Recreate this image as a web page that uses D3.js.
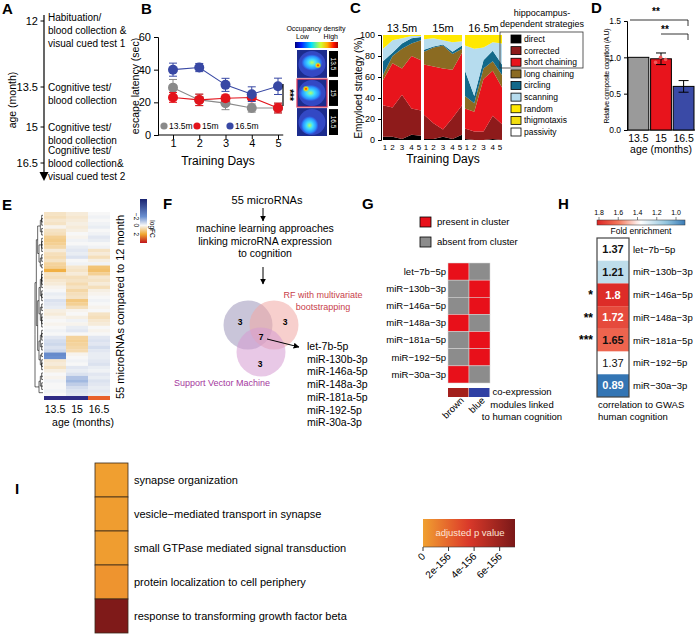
<!DOCTYPE html>
<html><head><meta charset="utf-8">
<script src="https://cdn.jsdelivr.net/npm/d3@7"></script>
<style>body{margin:0;background:#fff}svg{font-family:"Liberation Sans",Arial,sans-serif}</style>
</head><body>
<script>
// ---------- data ----------
var ageTicks=[12,13.5,15,16.5];
var ageEvents=[["Habituation/","blood collection &","visual cued test 1"],["Cognitive test/","blood collection"],["Cognitive test/","blood collection"],["Cognitive test/","blood collection&","visual cued test 2"]];

var days=[1,2,3,4,5];
var latGroups=["13.5m","15m","16.5m"];
var lat135=[29,21.5,19.5,16.5,16.5], err135=[5,3.5,4,2.5,3];
var lat15=[23,21.5,22.5,23,16.5], err15=[3,3.5,2,1.5,3];
var lat165=[40,41.3,30.7,25,29.8], err165=[4,2.5,4,4.5,5];
var occLabels=["13.5","15","16.5"];

var strategies=["direct","corrected","short chaining","long chaining","circling","scanning","random","thigmotaxis","passivity"];
var stratPanels=["13.5m","15m","16.5m"];
// percent of trials per strategy, days 1-5
var strat135=[[3,3,1,5,4],[30,28,42,25,24],[24,42,25,50,48],[5,7,19,12,19],[13,3,5,5,3],[12,12,5,2,1],[13,5,3,1,1],[0,0,0,0,0],[0,0,0,0,0]];
var strat15=[[1,1,3,1,5],[23,15,7,20,28],[48,54,58,46,50],[12,18,22,15,4],[2,1,1,2,3],[10,8,4,9,4],[4,3,5,7,6],[0,0,0,0,0],[0,0,0,0,0]];
var strat165=[[1,0,0,1,0],[10,8,8,22,15],[19,19,50,43,35],[12,8,10,9,12],[24,7,8,10,10],[24,45,12,8,20],[10,13,12,7,8],[0,0,0,0,0],[0,0,0,0,0]];

var cogAges=["13.5","15","16.5"];
var cogValues=[1.0,0.98,0.6];
var cogErr=[0,0.08,0.08];
var cogPoints15=[0.93,1.0,0.97];

var heatAges=["13.5","15","16.5"];
var heat135=[0.5,0.6,0.4,0.5,0.1,0.5,0.6,1.0,1.1,1.0,0.8,0.3,0.6,0.7,0.5,0.9,1.0,1.8,0.5,0.6,0.4,0.3,0.1,0.0,-0.2,-0.1,-0.4,-0.3,-0.2,0.2,0.3,0.1,0.0,0.1,0.0,-0.1,0.0,-0.3,-0.5,-0.6,-0.4,-0.6,-2.2,-2.0,0.4,0.3,0.5,0.2,0.0,0.1,-0.1,0.0,0.0,-0.1,0.0];
var heat15=[0.3,0.4,0.3,0.2,0.3,0.2,0.0,0.1,-0.1,0.0,-0.2,-0.3,-0.2,-0.4,0.0,-0.1,0.4,0.5,0.3,0.6,0.5,0.7,0.5,0.8,0.6,0.5,1.2,1.0,0.6,0.1,0.0,0.2,-0.1,0.1,-0.2,-0.3,0.0,0.9,1.0,0.9,0.8,0.7,0.1,0.0,-0.1,0.0,-0.3,-0.2,-0.4,-1.0,-1.2,-0.8,-0.5,-0.4,-0.3];
var heat165=[0.0,-0.1,0.0,-0.1,-0.2,0.0,-0.1,-0.3,-0.2,0.0,-0.1,0.5,0.3,0.6,0.2,-0.1,1.3,1.4,1.0,0.4,0.5,0.3,0.6,0.2,0.1,0.0,-0.1,0.0,0.1,0.0,0.5,0.6,0.4,0.3,0.0,0.1,0.0,-0.3,-0.4,-0.3,-0.5,-0.3,-0.2,-0.2,-0.3,-0.4,-0.2,-0.1,-0.3,-0.2,-0.4,-0.3,-0.2,-0.3,-0.2];
var dendro=[[[[4,3],[5,[3,2]]],[[[6,4],[3,5]],[[4,3],[2,4]]]],[[3,3],1]];
var logfcTicks=[-2,0,2];

var mirs=["let-7b-5p","miR-130b-3p","miR-146a-5p","miR-148a-3p","miR-181a-5p","miR-192-5p","miR-30a-3p"];
var vennCounts=[3,3,7,3];
var modules=["brown","blue"];
var inBrown=[1,0,0,1,0,0,1];
var inBlue=[0,1,1,0,1,1,0];

var foldEnrich=[1.37,1.21,1.8,1.72,1.65,1.37,0.89];
var gwasStars=["","","*","**","***","",""];
var foldTicks=[1.8,1.6,1.4,1.2,1.0];

var goTerms=["synapse organization","vesicle\u2212mediated transport in synapse","small GTPase mediated signal transduction","protein localization to cell periphery","response to transforming growth factor beta"];
var goPadj=[0.05e-156,0.1e-156,0.1e-156,0.4e-156,7e-156];
var padjTicks=[0,2e-156,4e-156,6e-156];

// ---------- setup ----------
var svg=d3.select("body").append("svg").attr("width",700).attr("height",634);
var defs=svg.append("defs");
defs.append("marker").attr("id","arr").attr("viewBox","0 0 10 10").attr("refX",9).attr("refY",5)
  .attr("markerWidth",6).attr("markerHeight",6).attr("orient","auto")
  .append("path").attr("d","M0,0L10,5L0,10z").attr("fill","#000");
var minus=function(s){return s.replace(/-/g,"\u2212");};

function panelLabel(t,x,y){
  svg.append("text").attr("x",x).attr("y",y).attr("font-size",15).attr("font-weight","bold").text(t);
}
panelLabel("A",2,14);panelLabel("B",141,14);panelLabel("C",350,13);panelLabel("D",591,13);
panelLabel("E",2,210);panelLabel("F",163,209);panelLabel("G",362,209);panelLabel("H",558,209);
panelLabel("I",15,494);

// ---------- A ----------
var yA=d3.scaleLinear().domain(ageTicks).range([21,87,127,163]);
var gA=svg.append("g");
gA.append("line").attr("x1",44).attr("x2",44).attr("y1",15).attr("y2",174).attr("stroke","#000").attr("stroke-width",1.2);
gA.append("path").attr("d","M39.5,172L48.5,172L44,181Z").attr("fill","#000");
var lineOff=[-4,0,0,-13];
ageTicks.forEach(function(a,i){
  gA.append("line").attr("x1",40.5).attr("x2",44).attr("y1",yA(a)).attr("y2",yA(a)).attr("stroke","#000");
  gA.append("text").attr("x",38).attr("y",yA(a)).attr("dy","0.35em").attr("text-anchor","end").attr("font-size",11).text(a);
  ageEvents[i].forEach(function(s,j){
    gA.append("text").attr("x",48).attr("y",yA(a)+lineOff[i]+j*13).attr("dy","0.35em").attr("font-size",10).text(s);
  });
});
gA.append("text").attr("transform","translate(16,100) rotate(-90)").attr("text-anchor","middle").attr("font-size",10.5).text("age (month)");

// ---------- B ----------
var xB=d3.scaleLinear().domain([1,5]).range([173,278]);
var yB=d3.scaleLinear().domain([0,60]).range([135,37]);
var gB=svg.append("g");
gB.append("g").attr("transform","translate(158,0)").call(d3.axisLeft(yB).tickValues([0,20,40,60]).tickSize(4))
  .call(function(g){g.selectAll("text").attr("font-size",11).attr("font-family",null);});
gB.append("line").attr("x1",158).attr("x2",xB(5.2)).attr("y1",135).attr("y2",135).attr("stroke","#000");
gB.append("g").attr("transform","translate(0,135)").call(d3.axisBottom(xB).tickValues(days).tickFormat(d3.format("d")).tickSize(4))
  .call(function(g){g.select(".domain").remove();g.selectAll("text").attr("font-size",11).attr("font-family",null).attr("y",4).attr("dy","0.75em");});
gB.append("text").attr("transform","translate(139,86) rotate(-90)").attr("text-anchor","middle").attr("font-size",10.5).text("escape latency (sec)");
gB.append("text").attr("x",218).attr("y",165).attr("text-anchor","middle").attr("font-size",12).text("Training Days");
var latColors=["#8a8a8a","#e3131b","#3848a4"];
[[lat135,err135],[lat15,err15],[lat165,err165]].forEach(function(s,k){
  var c=latColors[k];
  gB.append("path").datum(s[0]).attr("fill","none").attr("stroke",c).attr("stroke-width",1.1)
    .attr("d",d3.line().x(function(d,i){return xB(days[i]);}).y(function(d){return yB(d);}));
  s[0].forEach(function(v,i){
    var x=xB(days[i]);
    gB.append("path").attr("d","M"+(x-4)+","+yB(v+s[1][i])+"H"+(x+4)+"M"+x+","+yB(v+s[1][i])+"V"+yB(v-s[1][i])+"M"+(x-4)+","+yB(v-s[1][i])+"H"+(x+4))
      .attr("stroke",c).attr("stroke-width",1).attr("fill","none");
    gB.append("circle").attr("cx",x).attr("cy",yB(v)).attr("r",5).attr("fill",c);
  });
});
var legX=[164,197,230];
latGroups.forEach(function(g,k){
  gB.append("circle").attr("cx",legX[k]).attr("cy",126).attr("r",3.6).attr("fill",latColors[k]);
  gB.append("text").attr("x",legX[k]+5).attr("y",126).attr("dy","0.35em").attr("font-size",8.5).text(g);
});
gB.append("line").attr("x1",283).attr("x2",283).attr("y1",84).attr("y2",106).attr("stroke","#000").attr("stroke-width",1.2);
gB.append("text").attr("transform","translate(286,95) rotate(90)").attr("text-anchor","middle").attr("font-size",10).attr("font-weight","bold").text("***");

// occupancy density images
var jet=defs.append("linearGradient").attr("id","jet");
[["0","#00007f"],["0.15","#0020ff"],["0.38","#00e0ff"],["0.6","#d0ff30"],["0.75","#ffb000"],["0.9","#ff1000"],["1","#a00000"]]
  .forEach(function(s){jet.append("stop").attr("offset",s[0]).attr("stop-color",s[1]);});
var blob=defs.append("radialGradient").attr("id","blob");
[["0","#b8ff60"],["0.35","#40e0ff"],["0.75","#2a90ff"],["1","#2a70ff","0"]]
  .forEach(function(s){blob.append("stop").attr("offset",s[0]).attr("stop-color",s[1]).attr("stop-opacity",s[2]||1);});
var hot=defs.append("radialGradient").attr("id","hot");
[["0","#ff1000"],["0.45","#ffd000"],["1","#a0ff40","0"]]
  .forEach(function(s){hot.append("stop").attr("offset",s[0]).attr("stop-color",s[1]).attr("stop-opacity",s[2]||1);});
gB.append("text").attr("x",316).attr("y",31).attr("text-anchor","middle").attr("font-size",7).text("Occupancy density");
gB.append("text").attr("x",296).attr("y",39).attr("font-size",7).text("Low");
gB.append("text").attr("x",338).attr("y",39).attr("text-anchor","end").attr("font-size",7).text("High");
gB.append("rect").attr("x",295).attr("y",42).attr("width",43).attr("height",6).attr("fill","url(#jet)");
var yOcc=d3.scaleBand().domain(occLabels).range([50,136]).paddingInner(0.04);
var occBlobs=[[[0.5,0.45,0.36,0.3],[0.7,0.55,0.12]],[[0.45,0.5,0.38,0.3],[0.3,0.35,0.12]],[[0.42,0.62,0.3,0.34]]];
occLabels.forEach(function(l,k){
  var y0=yOcc(l),h=yOcc.bandwidth(),g=gB.append("g");
  g.append("rect").attr("x",297).attr("y",y0).attr("width",30).attr("height",h).attr("fill","#1c2c8e")
    .attr("stroke",k==1?"#e03a5a":"none").attr("stroke-width",1.2);
  g.append("ellipse").attr("cx",312).attr("cy",y0+h/2).attr("rx",13.5).attr("ry",h/2-1).attr("fill","#3348c4");
  occBlobs[k].forEach(function(b,j){
    g.append("ellipse").attr("cx",297+b[0]*30).attr("cy",y0+b[1]*h).attr("rx",(b[2])*30).attr("ry",(b[3]||b[2])*h)
      .attr("fill",j==0?"url(#blob)":"url(#hot)");
  });
  gB.append("rect").attr("x",329).attr("y",y0+1).attr("width",9).attr("height",h-2).attr("fill","#000");
  gB.append("text").attr("transform","translate("+331+","+(y0+h/2)+") rotate(90)").attr("text-anchor","middle")
    .attr("font-size",6.5).attr("fill","#fff").text(l);
});

// ---------- C ----------
var stratColors=["#000000","#8e1b1b","#e8141c","#8b6b22","#12698a","#b6dcee","#ffe800","#f2dd10","#ffffff"];
var yC=d3.scaleLinear().domain([0,100]).range([140,35]);
var gC=svg.append("g");
gC.append("g").attr("transform","translate(381,0)").call(d3.axisLeft(yC).tickValues([0,20,40,60,80,100]).tickSize(3))
  .call(function(g){g.selectAll("text").attr("font-size",9).attr("font-family",null);});
gC.append("text").attr("transform","translate(362,88) rotate(-90)").attr("text-anchor","middle").attr("font-size",10).text("Empyloed strategy (%)");
gC.append("text").attr("x",443).attr("y",163).attr("text-anchor","middle").attr("font-size",12).text("Training Days");
var panelRanges=[[383,421],[424,462],[465,502]];
[strat135,strat15,strat165].forEach(function(arr,p){
  var rows=days.map(function(d,i){var o={day:d};strategies.forEach(function(s,k){o[s]=arr[k][i];});return o;});
  var stack=d3.stack().keys(strategies)(rows);
  var x=d3.scaleLinear().domain([1,5]).range(panelRanges[p]);
  var area=d3.area().x(function(d){return x(d.data.day);}).y0(function(d){return yC(d[0]);}).y1(function(d){return yC(d[1]);});
  gC.append("g").selectAll("path").data(stack).enter().append("path")
    .attr("d",area).attr("fill",function(d,i){return stratColors[i];});
  days.forEach(function(d){
    gC.append("text").attr("x",x(d)+(d==1?2:d==5?-2:0)).attr("y",150).attr("text-anchor","middle").attr("font-size",8).text(d);
  });
  gC.append("text").attr("x",(panelRanges[p][0]+panelRanges[p][1])/2).attr("y",32).attr("text-anchor","middle").attr("font-size",11).text(stratPanels[p]);
});
gC.append("text").attr("x",542).attr("y",16).attr("text-anchor","middle").attr("font-size",9).text("hippocampus-");
gC.append("text").attr("x",542).attr("y",27).attr("text-anchor","middle").attr("font-size",9).text("dependent strategies");
gC.append("rect").attr("x",500).attr("y",32).attr("width",83).attr("height",36).attr("fill","none").attr("stroke","#333").attr("stroke-width",0.8);
var yL=d3.scaleLinear().domain([0,8]).range([39,132]);
strategies.forEach(function(s,i){
  gC.append("rect").attr("x",511).attr("y",yL(i)-4).attr("width",10).attr("height",8).attr("fill",stratColors[i]).attr("stroke","#000").attr("stroke-width",0.8);
  gC.append("text").attr("x",524).attr("y",yL(i)).attr("dy","0.35em").attr("font-size",8.5).text(s);
});

// ---------- D ----------
var xD=d3.scaleBand().domain(cogAges).range([628,694]).paddingInner(0.08);
var yD=d3.scaleLinear().domain([0,1.5]).range([130,21]);
var gD=svg.append("g");
gD.append("g").attr("transform","translate(627,0)").call(d3.axisLeft(yD).tickValues([0,0.5,1,1.5]).tickFormat(d3.format(".1f")).tickSize(3))
  .call(function(g){g.selectAll("text").attr("font-size",8.5).attr("font-family",null);});
gD.append("line").attr("x1",627).attr("x2",695).attr("y1",130).attr("y2",130).attr("stroke","#000");
var cogColors=["#9a9a9a","#e8141c","#3a4aa6"];
cogAges.forEach(function(a,i){
  gD.append("rect").attr("x",xD(a)).attr("y",yD(cogValues[i])).attr("width",xD.bandwidth()).attr("height",yD(0)-yD(cogValues[i]))
    .attr("fill",cogColors[i]).attr("stroke","#000").attr("stroke-width",1);
  if(cogErr[i]>0){
    var cx=xD(a)+xD.bandwidth()/2;
    gD.append("path").attr("d","M"+(cx-5)+","+yD(cogValues[i]+cogErr[i])+"H"+(cx+5)+"M"+cx+","+yD(cogValues[i]+cogErr[i])+"V"+yD(cogValues[i]-cogErr[i])+"M"+(cx-5)+","+yD(cogValues[i]-cogErr[i])+"H"+(cx+5))
      .attr("stroke","#000").attr("fill","none");
  }
  gD.append("text").attr("x",xD(a)+xD.bandwidth()/2).attr("y",142).attr("text-anchor","middle").attr("font-size",10.5).text(a);
});
cogPoints15.forEach(function(v,i){
  gD.append("circle").attr("cx",xD("15")+5+i*5).attr("cy",yD(v)).attr("r",1.8).attr("fill","#f05a5a");
});
gD.append("text").attr("x",661).attr("y",153).attr("text-anchor","middle").attr("font-size",10.5).text("age (months)");
gD.append("text").attr("transform","translate(609,76) rotate(-90)").attr("text-anchor","middle").attr("font-size",7).attr("textLength",95).text("Relative composite cognition (A.U)");
gD.append("path").attr("d","M630,20H688V26").attr("fill","none").attr("stroke","#000").attr("stroke-width",0.8);
gD.append("path").attr("d","M661,34H688V40").attr("fill","none").attr("stroke","#000").attr("stroke-width",0.8);
gD.append("text").attr("x",656).attr("y",15).attr("text-anchor","middle").attr("font-size",10).attr("font-weight","bold").text("**");
gD.append("text").attr("x",665).attr("y",33).attr("text-anchor","middle").attr("font-size",10).attr("font-weight","bold").text("**");

// ---------- E ----------
var heatColor=d3.scaleLinear().domain([-6,-2,0,2,4]).range(["#1a2470","#6a8fd0","#f7f7f7","#f0a830","#c0141c"]);
var xE=d3.scaleBand().domain(heatAges).range([44,110]);
var yE=d3.scaleBand().domain(d3.range(55)).range([212,396]);
var gE=svg.append("g");
[heat135,heat15,heat165].forEach(function(col,c){
  gE.append("g").selectAll("rect").data(col).enter().append("rect")
    .attr("x",xE(heatAges[c])).attr("y",function(d,i){return yE(i);}).attr("width",xE.bandwidth()).attr("height",yE.bandwidth()+0.3)
    .attr("fill",function(d){return heatColor(d);});
});
var annColors=["#2e2a84","#2e2a84","#e8602a"];
heatAges.forEach(function(a,i){
  gE.append("rect").attr("x",xE(a)).attr("y",396).attr("width",xE.bandwidth()).attr("height",4).attr("fill",annColors[i]);
  gE.append("text").attr("x",xE(a)+xE.bandwidth()/2).attr("y",413).attr("text-anchor","middle").attr("font-size",10.5).text(a);
});
gE.append("text").attr("x",83).attr("y",426).attr("text-anchor","middle").attr("font-size",10.5).text("age (months)");
gE.append("text").attr("transform","translate(124,307) rotate(-90)").attr("text-anchor","middle").attr("font-size",11).text("55 microRNAs compared to 12 month");
// dendrogram
var root=d3.hierarchy(dendro,function(d){
  if(Array.isArray(d))return d;
  if(typeof d==="number"&&d>1)return d3.range(d).map(function(){return "leaf";});
  return null;
});
d3.cluster().size([54*yE.step(),8]).separation(function(){return 1;})(root);
var ox=35,oy=212+yE.step()/2;
gE.append("g").selectAll("path").data(root.descendants().slice(1)).enter().append("path")
  .attr("d",function(d){return "M"+(ox+d.parent.y)+","+(oy+d.parent.x)+"V"+(oy+d.x)+"H"+(ox+d.y);})
  .attr("fill","none").attr("stroke","#000").attr("stroke-width",0.6);
// logFC legend
var yLeg=d3.scaleLinear().domain([-6,4]).range([199,243]);
var lg=defs.append("linearGradient").attr("id","logfc").attr("x1",0).attr("x2",0).attr("y1",0).attr("y2",1);
d3.range(-6,4.01,0.5).forEach(function(v){lg.append("stop").attr("offset",(v+6)/10).attr("stop-color",heatColor(v));});
gE.append("rect").attr("x",140).attr("y",199).attr("width",7).attr("height",44).attr("fill","url(#logfc)");
logfcTicks.forEach(function(t){
  gE.append("text").attr("transform","translate(134,"+yLeg(t)+") rotate(90)").attr("text-anchor","middle").attr("font-size",6.5).text(minus(String(t)));
});
gE.append("text").attr("transform","translate(150,229) rotate(90)").attr("text-anchor","middle").attr("font-size",6.5).text("logFC");

// ---------- F ----------
var gF=svg.append("g");
gF.append("text").attr("x",267).attr("y",204).attr("text-anchor","middle").attr("font-size",11).text("55 microRNAs");
gF.append("line").attr("x1",263).attr("x2",263).attr("y1",208).attr("y2",221).attr("stroke","#000").attr("marker-end","url(#arr)");
["machine learning approaches","linking microRNA expression","to cognition"].forEach(function(s,i){
  gF.append("text").attr("x",265).attr("y",232+i*12.7).attr("text-anchor","middle").attr("font-size",10.5).text(s);
});
gF.append("line").attr("x1",263).attr("x2",263).attr("y1",267).attr("y2",284).attr("stroke","#000").attr("marker-end","url(#arr)");
var venn=[[248,325,"#9c95ba"],[274,325,"#f0a8a4"],[261,352,"#d59ad2"]];
gF.selectAll("circle.v").data(venn).enter().append("circle").attr("cx",function(d){return d[0];}).attr("cy",function(d){return d[1];})
  .attr("r",24.5).attr("fill",function(d){return d[2];}).attr("fill-opacity",0.55);
var vennPos=[[240,322],[285,322],[261,337],[260,364]];
vennCounts.forEach(function(c,i){
  gF.append("text").attr("x",vennPos[i][0]).attr("y",vennPos[i][1]).attr("dy","0.35em").attr("text-anchor","middle").attr("font-size",8.5).attr("font-weight","bold").text(c);
});
gF.append("line").attr("x1",267).attr("y1",339).attr("x2",299).attr("y2",347).attr("stroke","#000").attr("marker-end","url(#arr)");
gF.append("text").attr("x",323).attr("y",298).attr("text-anchor","middle").attr("font-size",9).attr("fill","#c8414b").text("RF with multivariate");
gF.append("text").attr("x",323).attr("y",310).attr("text-anchor","middle").attr("font-size",9).attr("fill","#c8414b").text("bootstrapping");
gF.append("text").attr("x",222).attr("y",386).attr("text-anchor","middle").attr("font-size",9).attr("fill","#a5379e").text("Support Vector Machine");
mirs.forEach(function(m,i){
  gF.append("text").attr("x",307).attr("y",350+i*12.7).attr("font-size",10.5).text(m);
});

// ---------- G ----------
var gG=svg.append("g");
gG.append("rect").attr("x",420).attr("y",217).attr("width",11).attr("height",10).attr("fill","#e8101a").attr("stroke","#000").attr("stroke-width",0.8);
gG.append("text").attr("x",437).attr("y",222).attr("dy","0.35em").attr("font-size",9.5).text("present in cluster");
gG.append("rect").attr("x",420).attr("y",237).attr("width",11).attr("height",10).attr("fill","#8c8c8c").attr("stroke","#000").attr("stroke-width",0.8);
gG.append("text").attr("x",437).attr("y",242).attr("dy","0.35em").attr("font-size",9.5).text("absent from cluster");
var xG=d3.scaleBand().domain(modules).range([448,490]);
var yG=d3.scaleBand().domain(mirs).range([263,383]);
[inBrown,inBlue].forEach(function(col,c){
  gG.append("g").selectAll("rect").data(col).enter().append("rect")
    .attr("x",xG(modules[c])).attr("y",function(d,i){return yG(mirs[i]);}).attr("width",xG.bandwidth()).attr("height",yG.bandwidth())
    .attr("fill",function(d){return d?"#e8101a":"#8c8c8c";}).attr("stroke","#d8d8d8").attr("stroke-width",0.5);
});
mirs.forEach(function(m){
  gG.append("text").attr("x",446).attr("y",yG(m)+yG.bandwidth()/2).attr("dy","0.35em").attr("text-anchor","end").attr("font-size",9.5).text(minus(m));
});
var modColors=["#a3201c","#3040a4"];
modules.forEach(function(m,i){
  gG.append("rect").attr("x",xG(m)).attr("y",388).attr("width",xG.bandwidth()-0.5).attr("height",9).attr("fill",modColors[i]);
  gG.append("text").attr("transform","translate("+(xG(m)+xG.bandwidth()/2+6)+",401) rotate(-45)").attr("text-anchor","end").attr("font-size",9.5).text(m);
});
["co-expression","modules linked","to human cognition"].forEach(function(s,i){
  gG.append("text").attr("x",522).attr("y",395+i*12.5).attr("text-anchor","middle").attr("font-size",9.5).text(s);
});

// ---------- H ----------
var foldColor=d3.scaleLinear().domain([0.85,1.1,1.37,1.6,1.85]).range(["#2166ac","#92c5de","#ffffff","#f4775a","#d7191c"]);
var xH=d3.scaleLinear().domain([1.8,1.0]).range([599,676]);
var gH=svg.append("g");
var fg=defs.append("linearGradient").attr("id","fold");
d3.range(0,1.001,0.05).forEach(function(t){var v=xH.invert(597+t*88);fg.append("stop").attr("offset",t).attr("stop-color",foldColor(v));});
gH.append("rect").attr("x",597).attr("y",220).attr("width",88).attr("height",5).attr("fill","url(#fold)").attr("stroke","#333").attr("stroke-width",0.5);
foldTicks.forEach(function(t){
  gH.append("text").attr("x",xH(t)).attr("y",215).attr("text-anchor","middle").attr("font-size",7).text(d3.format(".1f")(t));
  gH.append("line").attr("x1",xH(t)).attr("x2",xH(t)).attr("y1",217).attr("y2",220).attr("stroke","#333").attr("stroke-width",0.6);
});
gH.append("text").attr("x",641).attr("y",234).attr("text-anchor","middle").attr("font-size",8.5).text("Fold enrichment");
var yH=d3.scaleBand().domain(mirs).range([238,397]);
gH.selectAll("rect.c").data(foldEnrich).enter().append("rect")
  .attr("x",597).attr("y",function(d,i){return yH(mirs[i]);}).attr("width",32).attr("height",yH.bandwidth())
  .attr("fill",function(d){return foldColor(d);});
gH.append("rect").attr("x",597).attr("y",238).attr("width",32).attr("height",159).attr("fill","none").attr("stroke","#444").attr("stroke-width",1.2);
foldEnrich.forEach(function(v,i){
  var y=yH(mirs[i])+yH.bandwidth()/2;
  gH.append("text").attr("x",613).attr("y",y).attr("dy","0.35em").attr("text-anchor","middle").attr("font-size",11)
    .attr("font-weight",i==5?"normal":"bold").attr("fill",(v>=1.7||v<1)?"#fff":"#111").text(v);
  gH.append("text").attr("x",633).attr("y",y).attr("dy","0.35em").attr("font-size",9.5).text(minus(mirs[i]));
  if(gwasStars[i])gH.append("text").attr("x",593).attr("y",y+4).attr("text-anchor","end").attr("font-size",12).attr("font-weight","bold").text(gwasStars[i]);
});
gH.append("text").attr("x",598).attr("y",408).attr("font-size",9.5).text("correlation to GWAS");
gH.append("text").attr("x",598).attr("y",420).attr("font-size",9.5).text("human cognition");

// ---------- I ----------
var pColor=d3.scaleLinear().domain([0,3.5e-156,7.2e-156]).range(["#f0a030","#dc3a2a","#7a1818"]);
var yI=d3.scaleBand().domain(goTerms).range([463,633]);
var gI=svg.append("g");
gI.selectAll("rect").data(goPadj).enter().append("rect")
  .attr("x",95).attr("y",function(d,i){return yI(goTerms[i]);}).attr("width",33).attr("height",yI.bandwidth())
  .attr("fill",function(d){return pColor(d);}).attr("stroke","#3a2a1a").attr("stroke-width",0.8);
goTerms.forEach(function(t){
  gI.append("text").attr("x",134).attr("y",yI(t)+yI.bandwidth()/2).attr("dy","0.35em").attr("font-size",11).text(t);
});
var xP=d3.scaleLinear().domain([0,7.2e-156]).range([423,515]);
var pg=defs.append("linearGradient").attr("id","padj");
d3.range(0,1.001,0.1).forEach(function(t){pg.append("stop").attr("offset",t).attr("stop-color",pColor(xP.invert(423+t*92)));});
gI.append("rect").attr("x",423).attr("y",519).attr("width",92).attr("height",28).attr("fill","url(#padj)");
gI.append("text").attr("x",470).attr("y",533).attr("dy","0.35em").attr("text-anchor","middle").attr("font-size",9.5).attr("fill","#fde4d4").text("adjusted p value");
gI.append("line").attr("x1",423).attr("x2",515).attr("y1",547).attr("y2",547).attr("stroke","#333").attr("stroke-width",0.6);
padjTicks.forEach(function(t){
  gI.append("line").attr("x1",xP(t)).attr("x2",xP(t)).attr("y1",547).attr("y2",551).attr("stroke","#333");
  gI.append("text").attr("transform","translate("+(xP(t)+3)+",557) rotate(-45)").attr("text-anchor","end").attr("font-size",10).text(t==0?"0":(t/1e-156)+"e-156");
});
</script>
</body></html>
